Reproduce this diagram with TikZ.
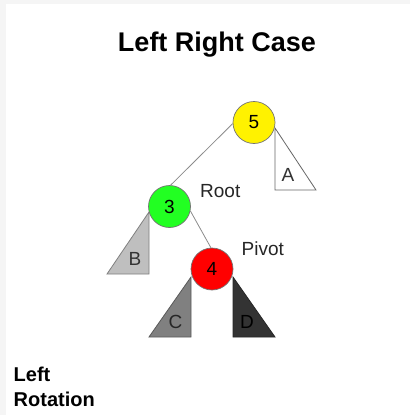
\documentclass[tikz,border=0pt]{standalone}
\usepackage{fontspec}
\setmainfont{Liberation Sans}
\definecolor{nodegreen}{RGB}{34,255,34}
\begin{document}
\begin{tikzpicture}[x=1pt,y=-1pt,
  avl/.style={circle,draw=black!55,line width=0.7pt,minimum size=42pt,inner sep=0pt,
    font=\fontsize{19}{22}\selectfont},
  lbl/.style={anchor=base,inner sep=0pt,font=\fontsize{19}{22}\selectfont},
  edge/.style={draw=black!45,line width=0.8pt},
  sub/.style={line width=0.8pt,line join=miter},
  side/.style={anchor=base west,inner sep=0pt,font=\fontsize{20}{25}\selectfont\bfseries}]
\fill[black!4] (0,0) rectangle (410,415);
\fill[white] (6,4) rectangle (410,415);
\useasboundingbox (0,0) rectangle (410,415);

\node[anchor=base,inner sep=0pt,font=\fontsize{27}{32}\selectfont\bfseries] (title) at (217,51.7) {Left Right Case};

% subtrees
\filldraw[sub,fill=white,draw=black!60] (275,128) -- (275,190) -- (316,190) -- cycle;
\filldraw[sub,fill=black!25,draw=black!50] (149,212) -- (107,274) -- (149,274) -- cycle;
\filldraw[sub,fill=black!50,draw=black!65] (191,277) -- (149,337) -- (191,337) -- cycle;
\filldraw[sub,fill=black!80,draw=black!85] (233,277) -- (233,337) -- (275,337) -- cycle;

\node[avl,fill=yellow] (n5) at (254,122.5) {5};
\node[avl,fill=nodegreen] (n3) at (169.5,206.5) {3};
\node[avl,fill=red] (n4) at (212,269) {4};

\draw[edge] (n5.183) -- (n3.87);
\draw[edge] (n3.-12) -- (n4.93);

\node[lbl,text=black!80] (la) at (288,181) {A};
\node[lbl,text=black!80] (lb) at (135,265) {B};
\node[lbl,text=black!85] (lc) at (175.5,328) {C};
\node[lbl,text=black] (ld) at (247,328) {D};

\node[lbl,anchor=base west,text=black!85] (root) at (200,197) {Root};
\node[lbl,anchor=base west,text=black!85] (pivot) at (241.5,255.7) {Pivot};

\node[side] (l1) at (13.5,381.7) {Left};
\node[side] (l2) at (13.5,406.7) {Rotation};
\end{tikzpicture}
\end{document}
